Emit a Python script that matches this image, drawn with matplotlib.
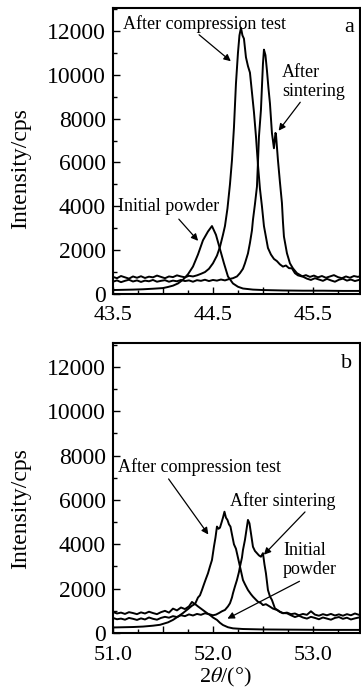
import matplotlib
matplotlib.use('Agg')
import matplotlib.pyplot as plt
from matplotlib.ticker import MultipleLocator, FixedLocator

plt.rcParams['font.family'] = ['Liberation Serif', 'DejaVu Serif']
plt.rcParams['mathtext.fontset'] = 'stix'

# ---- panel a : 43.5 - 46 deg ----
a_init_x = [43.50, 43.60, 43.70, 43.80, 43.90, 44.00, 44.05, 44.10, 44.15, 44.20, 44.25, 44.30,
            44.35, 44.40, 44.45, 44.49, 44.53, 44.57, 44.61, 44.65, 44.70, 44.75, 44.80, 44.90,
            45.00, 45.20, 45.40, 45.60, 45.80, 46.00]
a_init_y = [180, 190, 200, 215, 240, 270, 320, 380, 480, 650, 900, 1250,
            1800, 2450, 2850, 3100, 2700, 2050, 1400, 800, 480, 330, 250, 200,
            180, 160, 150, 150, 140, 140]

a_comp_x = [43.50, 43.54, 43.58, 43.62, 43.66, 43.70, 43.74, 43.78, 43.82, 43.86, 43.90, 43.94,
            43.98, 44.02, 44.06, 44.10, 44.14, 44.18, 44.22, 44.26, 44.30, 44.34, 44.38, 44.42,
            44.46, 44.50, 44.54, 44.57, 44.60, 44.62, 44.645, 44.67, 44.69, 44.71, 44.73, 44.75,
            44.765, 44.78, 44.795, 44.81, 44.83, 44.85, 44.87, 44.89, 44.91, 44.93, 44.95, 44.97,
            44.99, 45.01, 45.03, 45.05, 45.08, 45.11, 45.14, 45.17, 45.20, 45.23, 45.26, 45.29,
            45.32, 45.35, 45.39, 45.43, 45.47, 45.51, 45.55, 45.59, 45.63, 45.67, 45.71, 45.75,
            45.79, 45.83, 45.87, 45.91, 45.95, 46.00]
a_comp_y = [780, 720, 820, 760, 700, 800, 740, 810, 730, 790, 760, 840,
            780, 720, 800, 770, 850, 800, 760, 830, 800, 850, 920, 1000,
            1150, 1400, 1750, 2150, 2700, 3100, 3900, 5000, 6100, 7600, 9600, 11000,
            11800, 12150, 11800, 11650, 10800, 10400, 10100, 9200, 8300, 7200, 5900, 4800,
            4000, 3100, 2600, 2100, 1800, 1600, 1500, 1350, 1250, 1300, 1180, 1170,
            950, 850, 800, 860, 780, 840, 760, 820, 740, 800, 860, 770,
            720, 800, 740, 820, 780, 850]

a_sint_x = [43.50, 43.54, 43.58, 43.62, 43.66, 43.70, 43.74, 43.78, 43.82, 43.86, 43.90, 43.94,
            43.98, 44.02, 44.06, 44.10, 44.14, 44.18, 44.22, 44.26, 44.30, 44.34, 44.38, 44.42,
            44.46, 44.50, 44.54, 44.58, 44.62, 44.66, 44.70, 44.74, 44.77, 44.80, 44.82, 44.85,
            44.87, 44.89, 44.90, 44.92, 44.94, 44.95, 44.96, 44.98, 44.99, 45.00, 45.01, 45.025,
            45.04, 45.055, 45.07, 45.09, 45.11, 45.125, 45.13, 45.15, 45.17, 45.19, 45.20, 45.21,
            45.24, 45.27, 45.30, 45.34, 45.40, 45.44, 45.48, 45.52, 45.56, 45.60, 45.64, 45.68,
            45.72, 45.76, 45.80, 45.84, 45.88, 45.92, 45.96, 46.00]
a_sint_y = [560, 620, 540, 600, 650, 570, 620, 550, 610, 580, 640, 560,
            600, 630, 560, 610, 580, 640, 590, 620, 560, 630, 600, 650,
            590, 640, 610, 660, 620, 680, 720, 800, 950, 1150, 1400, 1850,
            2330, 2900, 3380, 4100, 4900, 6000, 7180, 8400, 9460, 10500, 11150, 10900,
            10200, 9400, 8700, 7340, 6650, 7350, 7300, 6110, 5100, 4150, 3300, 2620,
            1860, 1400, 1170, 950, 790, 700, 640, 720, 660, 600, 690, 620,
            560, 650, 700, 610, 660, 590, 640, 680]

# ---- panel b : 51 - 53.5 deg ----
b_init_x = [51.00, 51.10, 51.20, 51.30, 51.40, 51.47, 51.55, 51.60, 51.65, 51.70, 51.75, 51.79,
            51.82, 51.85, 51.88, 51.91, 51.94, 51.97, 52.00, 52.04, 52.07, 52.10, 52.15, 52.20,
            52.30, 52.50, 52.80, 53.10, 53.50]
b_init_y = [250, 260, 270, 290, 330, 370, 480, 590, 740, 900, 1080, 1230,
            1310, 1200, 1100, 1000, 900, 810, 700, 590, 460, 360, 260, 210,
            180, 160, 150, 140, 140]

b_comp_x = [51.00, 51.04, 51.08, 51.12, 51.16, 51.20, 51.24, 51.28, 51.32, 51.36, 51.40, 51.44,
            51.48, 51.52, 51.56, 51.60, 51.64, 51.68, 51.72, 51.76, 51.79, 51.82, 51.85, 51.87,
            51.89, 51.91, 51.93, 51.95, 51.97, 51.99, 52.01, 52.025, 52.04, 52.055, 52.07, 52.087,
            52.10, 52.115, 52.13, 52.145, 52.16, 52.175, 52.19, 52.21, 52.23, 52.245, 52.26, 52.28,
            52.30, 52.32, 52.35, 52.38, 52.40, 52.43, 52.45, 52.48, 52.50, 52.53, 52.57, 52.60,
            52.64, 52.67, 52.70, 52.74, 52.78, 52.82, 52.86, 52.90, 52.94, 52.98, 53.02, 53.06,
            53.10, 53.14, 53.18, 53.22, 53.26, 53.30, 53.34, 53.38, 53.42, 53.46, 53.50]
b_comp_y = [950, 880, 920, 860, 940, 900, 850, 930, 880, 960, 900, 850,
            940, 1000, 920, 1100, 1020, 1150, 1080, 1200, 1400, 1300, 1600, 1700,
            1940, 2200, 2450, 2690, 3000, 3290, 3900, 4300, 4800, 4700, 4750, 5000,
            5200, 5470, 5200, 5100, 4900, 4800, 4450, 4000, 3800, 3500, 3200, 2800,
            2390, 2200, 1940, 1750, 1640, 1500, 1410, 1350, 1260, 1300, 1190, 1100,
            1040, 950, 890, 920, 850, 880, 800, 860, 820, 980, 830, 780,
            850, 800, 860, 790, 840, 780, 850, 800, 880, 820, 860]

b_sint_x = [51.00, 51.04, 51.08, 51.12, 51.16, 51.20, 51.24, 51.28, 51.32, 51.36, 51.40, 51.44,
            51.48, 51.52, 51.56, 51.60, 51.64, 51.68, 51.72, 51.76, 51.80, 51.84, 51.88, 51.92,
            51.96, 52.00, 52.03, 52.06, 52.09, 52.12, 52.15, 52.17, 52.19, 52.20, 52.22, 52.24,
            52.26, 52.27, 52.29, 52.30, 52.32, 52.33, 52.35, 52.365, 52.38, 52.40, 52.42, 52.44,
            52.46, 52.48, 52.50, 52.515, 52.53, 52.55, 52.57, 52.59, 52.62, 52.67, 52.70, 52.74,
            52.78, 52.82, 52.86, 52.90, 52.94, 52.98, 53.02, 53.06, 53.10, 53.14, 53.18, 53.22,
            53.26, 53.30, 53.34, 53.38, 53.42, 53.46, 53.50]
b_sint_y = [680, 620, 650, 600, 680, 640, 590, 660, 610, 700, 640, 600,
            680, 730, 690, 760, 720, 800, 760, 840, 790, 860, 820, 890,
            850, 800, 830, 900, 980, 1040, 1200, 1340, 1600, 1790, 2100, 2390,
            2750, 2990, 3400, 3740, 4200, 4500, 5100, 4950, 4500, 3890, 3700, 3600,
            3500, 3440, 3600, 3100, 2690, 1940, 1650, 1490, 1110, 960, 900, 890,
            800, 720, 780, 700, 650, 730, 680, 620, 700, 650, 600, 680,
            720, 640, 690, 610, 660, 700, 640]

fig = plt.figure(figsize=(3.61, 6.95), dpi=100)
ax1 = fig.add_axes([0.313, 0.577, 0.684, 0.4115])
ax2 = fig.add_axes([0.313, 0.0892, 0.684, 0.4173])

ax1.plot(a_init_x, a_init_y, color='k', lw=1.4)
ax1.plot(a_comp_x, a_comp_y, color='k', lw=1.4)
ax1.plot(a_sint_x, a_sint_y, color='k', lw=1.4)
ax2.plot(b_init_x, b_init_y, color='k', lw=1.4)
ax2.plot(b_comp_x, b_comp_y, color='k', lw=1.4)
ax2.plot(b_sint_x, b_sint_y, color='k', lw=1.4)

ax1.set_xlim(43.5, 45.97)
ax1.set_ylim(0, 13050)
ax2.set_xlim(51.0, 53.47)
ax2.set_ylim(0, 13080)

ax1.xaxis.set_major_locator(FixedLocator([43.5, 44.0, 44.5, 45.0, 45.5]))
ax1.set_xticklabels(['43.5', '', '44.5', '', '45.5'])
ax2.xaxis.set_major_locator(FixedLocator([51.0, 51.5, 52.0, 52.5, 53.0]))
ax2.set_xticklabels(['51.0', '', '52.0', '', '53.0'])

for ax in (ax1, ax2):
    ax.xaxis.set_minor_locator(MultipleLocator(0.25))
    ax.yaxis.set_major_locator(MultipleLocator(2000))
    ax.yaxis.set_minor_locator(MultipleLocator(1000))
    ax.tick_params(which='both', direction='in', width=1.0, labelsize=17)
    ax.tick_params(which='major', length=5)
    ax.tick_params(which='minor', length=3)
    ax.tick_params(axis='y', pad=5)
    ax.tick_params(axis='x', pad=9, labelsize=16)
    for s in ax.spines.values():
        s.set_linewidth(1.5)
    ax.set_ylabel('Intensity/cps', fontsize=17)

ax1.yaxis.set_label_coords(-0.33, 0.44)
ax2.yaxis.set_label_coords(-0.33, 0.43)

ax2.set_xlabel('2$\\theta$/(°)', fontsize=16)
ax2.xaxis.set_label_coords(0.457, -0.115)

arrow = dict(arrowstyle='-|>', color='k', lw=0.9, mutation_scale=10)

# annotations, panel a
ax1.text(43.60, 12320, 'After compression test', fontsize=13, va='center')
ax1.annotate('', xy=(44.70, 10540), xytext=(44.34, 11910), arrowprops=arrow)
ax1.text(45.19, 9670, 'After\nsintering', fontsize=13, va='center', linespacing=1.1)
ax1.annotate('', xy=(45.14, 7350), xytext=(45.39, 8850), arrowprops=arrow)
ax1.text(43.55, 3970, 'Initial powder', fontsize=13, va='center')
ax1.annotate('', xy=(44.37, 2330), xytext=(44.14, 3510), arrowprops=arrow)
ax1.text(45.86, 12180, 'a', fontsize=16, ha='center', va='center')

# annotations, panel b
ax2.text(51.05, 7470, 'After compression test', fontsize=13, va='center')
ax2.annotate('', xy=(51.97, 4340), xytext=(51.54, 7050), arrowprops=arrow)
ax2.text(52.17, 5960, 'After sintering', fontsize=13, va='center')
ax2.annotate('', xy=(52.49, 3440), xytext=(52.94, 5550), arrowprops=arrow)
ax2.text(52.70, 3290, 'Initial\npowder', fontsize=13, va='center', linespacing=1.1)
ax2.annotate('', xy=(52.12, 590), xytext=(52.89, 2390), arrowprops=arrow)
ax2.text(53.34, 12140, 'b', fontsize=16, ha='center', va='center')

fig.savefig('out.png', dpi=100)
